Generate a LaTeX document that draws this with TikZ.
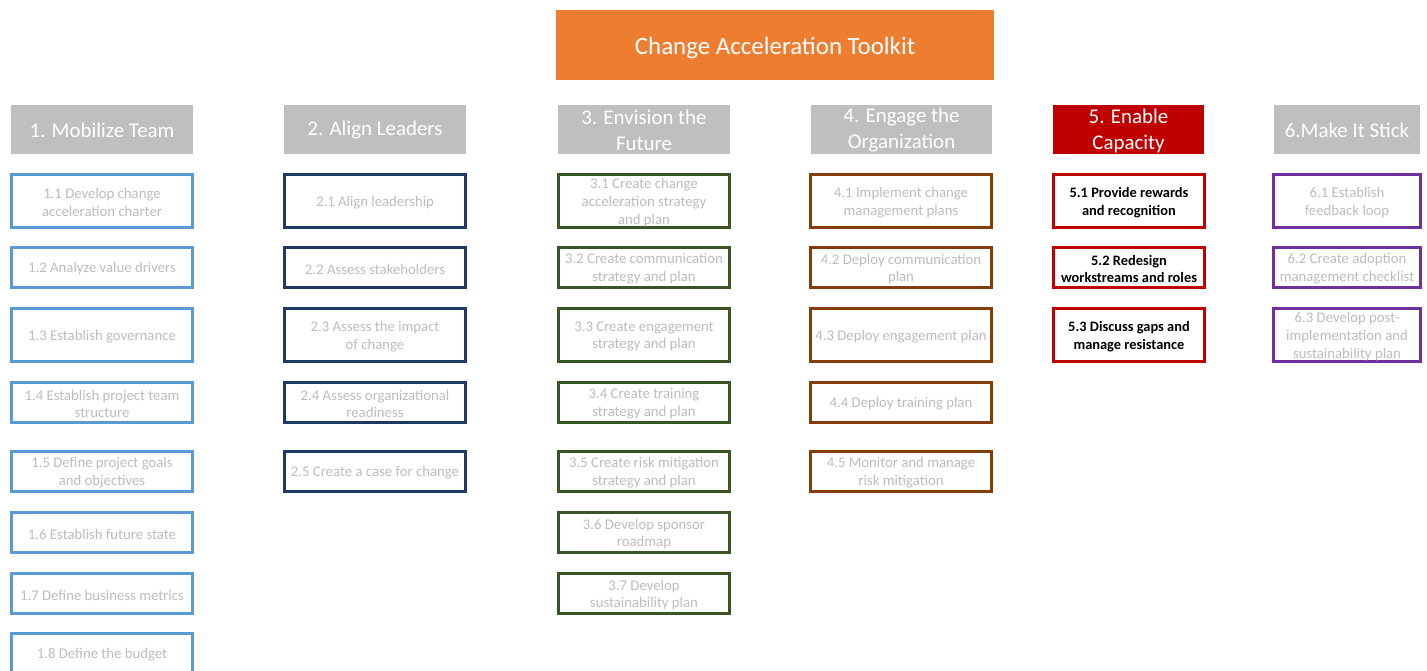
\documentclass[tikz,border=0pt]{standalone}
\usepackage{fontspec}
\setmainfont{Carlito}
\definecolor{orangeT}{HTML}{ED7D31}
\definecolor{hdrgray}{HTML}{BFBFBF}
\definecolor{txtgray}{HTML}{BDBDBD}
\definecolor{cblue}{HTML}{5B9BD5}
\definecolor{cnavy}{HTML}{203864}
\definecolor{cgreen}{HTML}{385723}
\definecolor{cbrown}{HTML}{843C0C}
\definecolor{cred}{HTML}{C00000}
\definecolor{cpurple}{HTML}{7030A0}
% box: name, x1, y1, x2, y2, style, text
\newcommand\bx[7]{\node[#6, minimum width={(#4-#2-3)*0.02cm}, minimum height={(#5-#3-3)*0.02cm}] (#1) at ({(#2+#4)/2},{(#3+#5)/2}) {};
  \node[#6, draw=none, fill=none] (#1-t) at ([yshift=-0.03cm]#1.center) {#7};}
\newcommand\hd[8]{\node[#6, minimum width={(#4-#2)*0.02cm}, minimum height={(#5-#3)*0.02cm}] (#1) at ({(#2+#4)/2},{(#3+#5)/2}) {};
  \node[#6, fill=none] (#1-t) at ([yshift=-#8*0.02cm]#1.center) {#7};}
\tikzset{
  base/.style={inner sep=0pt, outer sep=0pt, align=center},
  titlebox/.style={base, fill=orangeT, text=white, font=\fontsize{14.2}{17}\selectfont},
  hdrbox/.style={base, fill=hdrgray, text=white, font=\fontsize{11.9}{14.8}\selectfont},
  hdrred/.style={hdrbox, fill=cred},
  task/.style={base, draw, line width=1.7pt, fill=white, text=txtgray, font=\fontsize{8.4}{10.1}\selectfont},
  tblue/.style={task, draw=cblue},
  tnavy/.style={task, draw=cnavy},
  tgreen/.style={task, draw=cgreen},
  tbrown/.style={task, draw=cbrown},
  tred/.style={task, draw=cred, text=black, font=\fontsize{8.2}{10.1}\selectfont\bfseries},
  tpurple/.style={task, draw=cpurple},
}
\begin{document}
\begin{tikzpicture}[x=0.02cm, y=-0.02cm]
\clip (0,0) rectangle (1427,670);
\fill[white] (0,0) rectangle (1427,670);
\hd{title}{556}{10}{994}{80}{titlebox}{Change Acceleration Toolkit}{2.5}
\hd{h1}{11}{105}{193}{154}{hdrbox}{1. Mobilize Team}{1}
\hd{h2}{284}{105}{466}{154}{hdrbox}{2. Align Leaders}{1}
\hd{h3}{558}{105}{730}{154}{hdrbox}{3. Envision the\\Future}{1}
\hd{h4}{811}{105}{992}{154}{hdrbox}{4. Engage the\\Organization}{1}
\hd{h5}{1053}{105}{1204}{154}{hdrred}{5. Enable\\Capacity}{1}
\hd{h6}{1274}{105}{1420}{154}{hdrbox}{6.Make It Stick}{1}
% column 1
\bx{t11}{10}{173}{194}{229}{tblue}{1.1 Develop change\\acceleration charter}
\bx{t12}{10}{246}{194}{289}{tblue}{1.2 Analyze value drivers}
\bx{t13}{10}{307}{194}{363}{tblue}{1.3 Establish governance}
\bx{t14}{10}{381}{194}{424}{tblue}{1.4 Establish project team\\structure}
\bx{t15}{10}{450}{194}{493}{tblue}{1.5 Define project goals\\and objectives}
\bx{t16}{10}{511}{194}{554}{tblue}{1.6 Establish future state}
\bx{t17}{10}{572}{194}{615}{tblue}{1.7 Define business metrics}
\bx{t18}{10}{632}{194}{675}{tblue}{1.8 Define the budget}
% column 2
\bx{t21}{283}{173}{467}{229}{tnavy}{2.1 Align leadership}
\bx{t22}{283}{246}{467}{289}{tnavy}{2.2 Assess stakeholders}
\bx{t23}{283}{307}{467}{363}{tnavy}{2.3 Assess the impact\\of change}
\bx{t24}{283}{381}{467}{424}{tnavy}{2.4 Assess organizational\\readiness}
\bx{t25}{283}{450}{467}{493}{tnavy}{2.5 Create a case for change}
% column 3
\bx{t31}{557}{173}{731}{229}{tgreen}{3.1 Create change\\acceleration strategy\\and plan}
\bx{t32}{557}{246}{731}{289}{tgreen}{3.2 Create communication\\strategy and plan}
\bx{t33}{557}{307}{731}{363}{tgreen}{3.3 Create engagement\\strategy and plan}
\bx{t34}{557}{381}{731}{424}{tgreen}{3.4 Create training\\strategy and plan}
\bx{t35}{557}{450}{731}{493}{tgreen}{3.5 Create risk mitigation\\strategy and plan}
\bx{t36}{557}{511}{731}{554}{tgreen}{3.6 Develop sponsor\\roadmap}
\bx{t37}{557}{572}{731}{615}{tgreen}{3.7 Develop\\sustainability plan}
% column 4
\bx{t41}{809}{173}{993}{229}{tbrown}{4.1 Implement change\\management plans}
\bx{t42}{809}{246}{993}{289}{tbrown}{4.2 Deploy communication\\plan}
\bx{t43}{809}{307}{993}{363}{tbrown}{4.3 Deploy engagement plan}
\bx{t44}{809}{381}{993}{424}{tbrown}{4.4 Deploy training plan}
\bx{t45}{809}{450}{993}{493}{tbrown}{4.5 Monitor and manage\\risk mitigation}
% column 5
\bx{t51}{1052}{173}{1206}{229}{tred}{5.1 Provide rewards\\and recognition}
\bx{t52}{1052}{246}{1206}{289}{tred}{5.2 Redesign\\workstreams and roles}
\bx{t53}{1052}{307}{1206}{363}{tred}{5.3 Discuss gaps and\\manage resistance}
% column 6
\bx{t61}{1272}{173}{1422}{229}{tpurple}{6.1 Establish\\feedback loop}
\bx{t62}{1272}{246}{1422}{289}{tpurple}{6.2 Create adoption\\management checklist}
\bx{t63}{1272}{307}{1422}{363}{tpurple}{6.3 Develop post-\\implementation and\\sustainability plan}
\end{tikzpicture}
\end{document}
